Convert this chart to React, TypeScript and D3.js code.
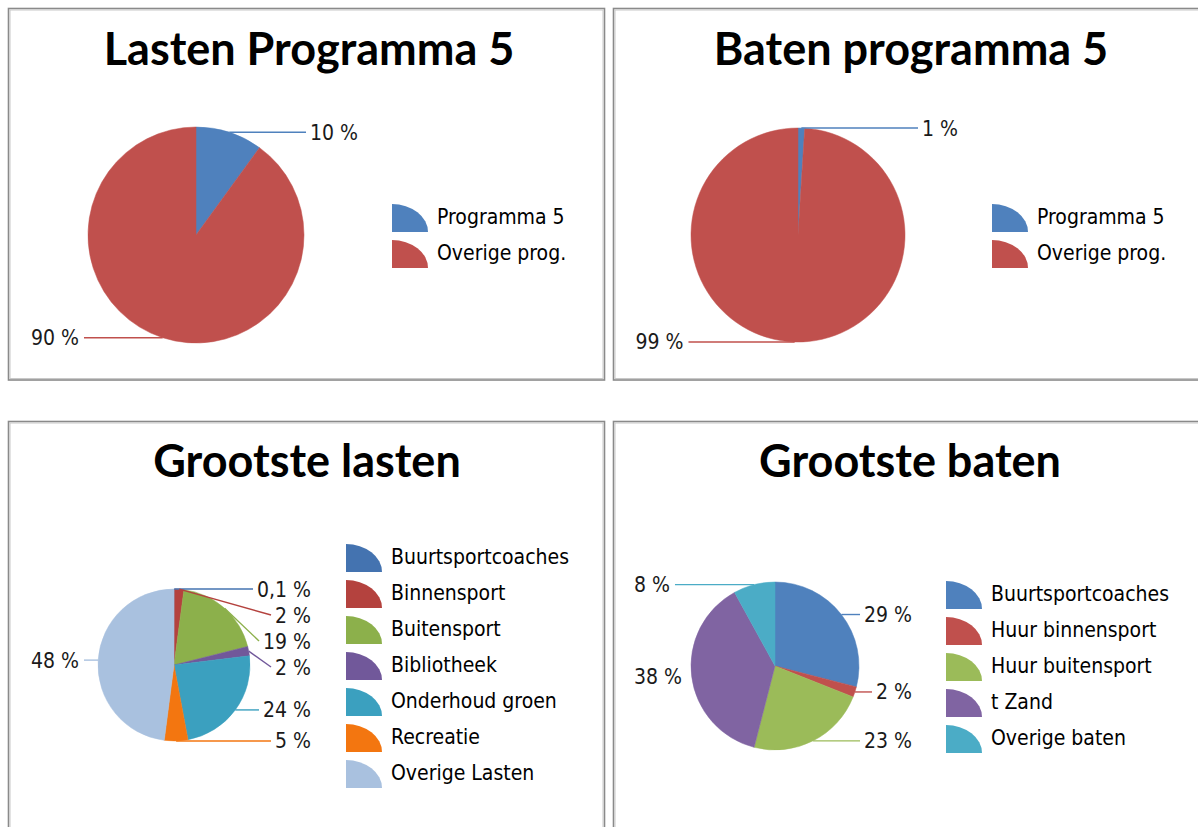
import React from 'react';
import * as d3 from 'd3';

// ---------- data ----------
const programmaCategories = ['Programma 5', 'Overige prog.'];
const lastenProgrammaValues = [10, 90];
const batenProgrammaValues = [1, 99];
const programmaColors = ['#4F81BD', '#C0504D'];

const lastenCategories = ['Buurtsportcoaches', 'Binnensport', 'Buitensport', 'Bibliotheek', 'Onderhoud groen', 'Recreatie', 'Overige Lasten'];
const lastenValues = [0.1, 2, 19, 2, 24, 5, 48];
const lastenColors = ['#4473B0', '#B4423E', '#8CB04B', '#71589A', '#3BA0BF', '#F37610', '#A9C1DF'];

const batenCategories = ['Buurtsportcoaches', 'Huur binnensport', 'Huur buitensport', 't Zand', 'Overige baten'];
const batenValues = [29, 2, 23, 38, 8];
const batenColors = ['#4F81BD', '#C0504D', '#9BBB59', '#8064A2', '#4BACC6'];

const titles = ['Lasten Programma 5', 'Baten programma 5', 'Grootste lasten', 'Grootste baten'];

// ---------- styling ----------
const TEXT_FONT = '"DejaVu Sans Condensed", "DejaVu Sans", sans-serif';
const TEXT_SIZE = 21;
const TITLE_FONT = 'Lato, "Open Sans", sans-serif';
const TITLE_SIZE = 45;

let ctx: CanvasRenderingContext2D | null = null;
function textWidth(s: string) {
  if (!ctx) {
    const c = document.createElement('canvas');
    ctx = c.getContext('2d');
  }
  if (!ctx) return s.length * 11;
  ctx.font = `${TEXT_SIZE}px ${TEXT_FONT}`;
  return ctx.measureText(s).width;
}

const fmt = (v: number) => `${String(v).replace('.', ',')} %`;

type PanelProps = {
  x: number; y: number; w: number; h: number;
  title: string; titleX: number; titleY: number;
  cx: number; cy: number; r: number;
  leftX: number; rightX: number;
  legendX: number;
  categories: string[]; values: number[]; colors: string[];
};

function PiePanel(p: PanelProps) {
  const pie = d3.pie<number>().sort(null).value((d) => d);
  const arcs = pie(p.values);
  const arcGen = d3.arc<d3.PieArcDatum<number>>().innerRadius(0).outerRadius(p.r);

  // label layout
  const items = arcs.map((a, i) => {
    const mid = (a.startAngle + a.endAngle) / 2;
    const ax = p.cx + p.r * Math.sin(mid);
    const ay = p.cy - p.r * Math.cos(mid);
    return { i, ax, ay, y: ay, right: mid < Math.PI, text: fmt(p.values[i]) };
  });
  const gap = 26;
  [true, false].forEach((side) => {
    const s = items.filter((d) => d.right === side).sort((a, b) => a.ay - b.ay);
    for (let k = 1; k < s.length; k++) {
      s[k].y = Math.max(s[k].ay, s[k - 1].y + gap);
    }
  });

  const n = p.categories.length;
  const step = 36;
  const iconW = 36;
  const iconH = 28;
  const legendTop = p.cy + 1 - (n * step - (step - iconH)) / 2;

  return (
    <g>
      <rect x={p.x} y={p.y} width={p.w} height={p.h} fill="#fff" stroke="#8a8a8a" strokeWidth={1.6} />
      <rect x={p.x + 1.5} y={p.y + 1.5} width={p.w - 3} height={p.h - 3} fill="none" stroke="#c8c8c8" strokeWidth={1} />
      <text x={p.titleX} y={p.titleY} textAnchor="middle" fontFamily={TITLE_FONT} fontWeight={700} fontSize={TITLE_SIZE} fill="#000">
        {p.title}
      </text>
      {arcs.map((a, i) => (
        <path key={i} d={arcGen(a) || ''} transform={`translate(${p.cx},${p.cy})`} fill={p.colors[i]} stroke={p.colors[i]} strokeWidth={0.5} />
      ))}
      {items.map((d) => {
        const w = textWidth(d.text);
        const ex = d.right ? p.rightX - w - 4 : p.leftX + w + 5;
        const dist = Math.abs(ex - d.ax);
        return (
          <g key={d.i}>
            {dist > 5 && (
              <line x1={d.ax} y1={d.ay} x2={ex} y2={d.y} stroke={p.colors[d.i]} strokeWidth={1.4} />
            )}
            <text
              x={d.right ? p.rightX : p.leftX}
              y={d.y + 7.5}
              textAnchor={d.right ? 'end' : 'start'}
              fontFamily={TEXT_FONT}
              fontSize={TEXT_SIZE}
              fill="#1a1a1a"
            >
              {d.text}
            </text>
          </g>
        );
      })}
      {p.categories.map((c, i) => {
        const ty = legendTop + i * step;
        const lx = p.legendX;
        return (
          <g key={c + i}>
            <path
              d={`M${lx},${ty + iconH} L${lx},${ty} A${iconW},${iconH} 0 0 1 ${lx + iconW},${ty + iconH} Z`}
              fill={p.colors[i]}
            />
            <text x={lx + 45} y={ty + 20} fontFamily={TEXT_FONT} fontSize={TEXT_SIZE} fill="#000">
              {c}
            </text>
          </g>
        );
      })}
    </g>
  );
}

export default function App() {
  return (
    <svg width={1198} height={827} style={{ position: 'absolute', left: 0, top: 0, background: '#fff' }}>
      <rect x={0} y={0} width={1198} height={827} fill="#fff" />
      <PiePanel
        x={8.5} y={8.5} w={596} h={371.5}
        title={titles[0]} titleX={309} titleY={65}
        cx={196} cy={235} r={108}
        leftX={31} rightX={358} legendX={392}
        categories={programmaCategories} values={lastenProgrammaValues} colors={programmaColors}
      />
      <PiePanel
        x={613.5} y={8.5} w={596} h={371.5}
        title={titles[1]} titleX={911} titleY={65}
        cx={798} cy={235} r={107}
        leftX={635.5} rightX={958} legendX={992}
        categories={programmaCategories} values={batenProgrammaValues} colors={programmaColors}
      />
      <PiePanel
        x={8.5} y={421.5} w={596} h={430}
        title={titles[2]} titleX={307} titleY={477}
        cx={174} cy={665} r={76}
        leftX={31} rightX={311} legendX={346}
        categories={lastenCategories} values={lastenValues} colors={lastenColors}
      />
      <PiePanel
        x={613.5} y={421.5} w={596} h={430}
        title={titles[3]} titleX={910} titleY={477}
        cx={775} cy={666} r={84}
        leftX={634} rightX={912} legendX={946}
        categories={batenCategories} values={batenValues} colors={batenColors}
      />
    </svg>
  );
}
